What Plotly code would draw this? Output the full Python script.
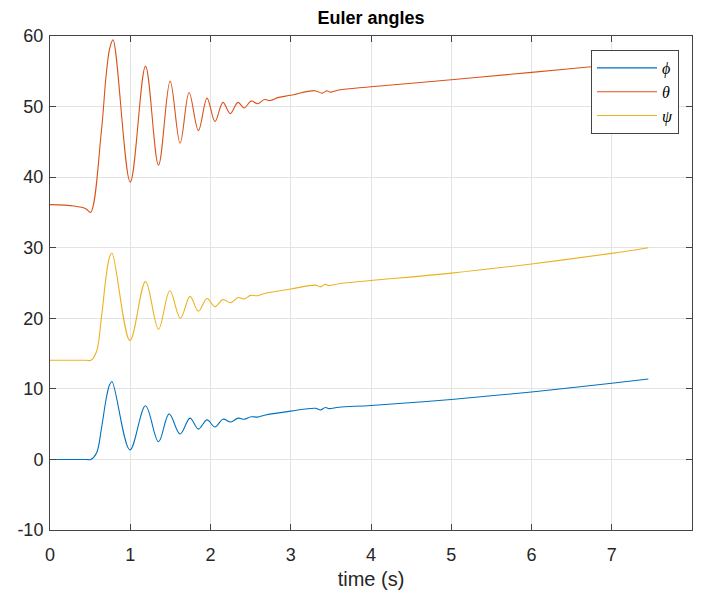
import plotly.graph_objects as go

# time points (s) read at the extrema / bends of each curve
t_phi = [0, 0.45, 0.51, 0.58, 0.64, 0.70, 0.74, 0.772, 0.996, 1.19, 1.352, 1.484, 1.621, 1.745,
         1.849, 1.957, 2.056, 2.155, 2.25, 2.346, 2.42, 2.507, 2.586, 2.686, 3.0, 3.307, 3.37,
         3.43, 3.48, 3.6, 4.0, 5.0, 6.0, 7.0, 7.456]
phi = [0, 0, 0, 0.9, 4.3, 8.6, 10.5, 11.05, 1.35, 7.6, 2.5, 6.45, 3.6, 5.85,
       4.3, 5.6, 4.6, 5.7, 5.3, 5.85, 5.7, 6.05, 6.0, 6.3, 6.85, 7.25, 7.0,
       7.35, 7.2, 7.4, 7.65, 8.5, 9.55, 10.8, 11.4]

t_theta = [0, 0.3, 0.45, 0.505, 0.64, 0.70, 0.745, 0.785, 1.0, 1.19, 1.352, 1.497, 1.621,
           1.733, 1.849, 1.957, 2.056, 2.155, 2.246, 2.342, 2.42, 2.507, 2.586, 2.673, 2.739,
           2.85, 3.0, 3.3, 3.39, 3.45, 3.49, 3.6, 4.0, 5.0, 6.0, 6.71, 7.456]
theta = [36.1, 35.9, 35.5, 35.0, 46.5, 54.5, 58.3, 59.45, 39.3, 55.7, 41.7, 53.6, 44.8,
         52.0, 46.6, 51.2, 47.9, 50.6, 49.0, 50.6, 49.8, 50.8, 50.4, 51.0, 50.85,
         51.3, 51.6, 52.25, 51.9, 52.25, 52.05, 52.35, 52.8, 53.8, 54.85, 55.6, 56.4]

t_psi = [0, 0.45, 0.51, 0.58, 0.64, 0.70, 0.74, 0.772, 0.996, 1.19, 1.352, 1.493, 1.625, 1.745,
         1.849, 1.957, 2.056, 2.155, 2.25, 2.346, 2.42, 2.5, 2.586, 2.686, 3.0, 3.307, 3.37,
         3.43, 3.48, 3.6, 4.0, 5.0, 6.0, 7.0, 7.456]
psi = [14.05, 14.05, 14.05, 15.3, 20.0, 26.0, 28.6, 29.25, 16.85, 25.2, 18.45, 23.9, 20.0, 23.1,
       21.0, 22.8, 21.65, 22.65, 22.2, 22.95, 22.75, 23.25, 23.2, 23.55, 24.15, 24.7, 24.45,
       24.8, 24.65, 24.9, 25.35, 26.4, 27.7, 29.2, 30.0]

x_ticks = [0, 1, 2, 3, 4, 5, 6, 7, 8]
y_ticks = [-10, 0, 10, 20, 30, 40, 50, 60]

series = [
    ("ϕ", t_phi, phi, "#0072BD"),
    ("θ", t_theta, theta, "#D95319"),
    ("ψ", t_psi, psi, "#EDB120"),
]

fig = go.Figure()
for name, t, v, c in series:
    fig.add_trace(go.Scatter(
        x=t, y=v, mode="lines", name=f"<i>{name}</i>",
        line=dict(color=c, width=1.1, shape="spline", smoothing=1.0),
    ))

axis_common = dict(
    showgrid=True, gridcolor="#e3e3e3", gridwidth=1, automargin=False,
    zeroline=False, showline=True, linecolor="#444444", linewidth=1,
    mirror="ticks", ticks="inside", ticklen=6, tickcolor="#444444",
    tickfont=dict(family="Liberation Sans, Arial, sans-serif", size=18, color="#262626"),
)

W, H = 685, 594
ML, MR, MT, MB = 42, 1, 28, 72
PW, PH = W - ML - MR, H - MT - MB

fig.update_layout(
    width=W, height=H,
    margin=dict(l=ML, r=MR, t=MT, b=MB, autoexpand=False),
    paper_bgcolor="white", plot_bgcolor="white",
    title=dict(text="<b>Euler angles</b>", x=0.5, xref="paper", xanchor="center",
               y=1 - 10 / H, yref="container", yanchor="middle",
               font=dict(family="Liberation Sans, Arial, sans-serif", size=18, color="black")),
    xaxis=dict(range=[0, 8], tickvals=x_ticks, ticktext=[str(v) for v in x_ticks],
               ticklabelstandoff=8,
               title=dict(text="time (s)", standoff=8,
                          font=dict(family="Liberation Sans, Arial, sans-serif", size=20, color="#262626")),
               **axis_common),
    yaxis=dict(range=[-10, 60], tickvals=y_ticks, ticktext=[str(v) for v in y_ticks],
               ticklabelstandoff=2, **axis_common),
    legend=dict(x=(583 - ML) / PW, xanchor="left", y=(MT + PH - 42) / PH, yanchor="top",
                bgcolor="white", bordercolor="#444444", borderwidth=1,
                itemwidth=60, tracegroupgap=0,
                font=dict(family="Liberation Serif, DejaVu Serif, serif", size=16, color="black")),
    showlegend=True,
)

fig.write_html("out.html")
